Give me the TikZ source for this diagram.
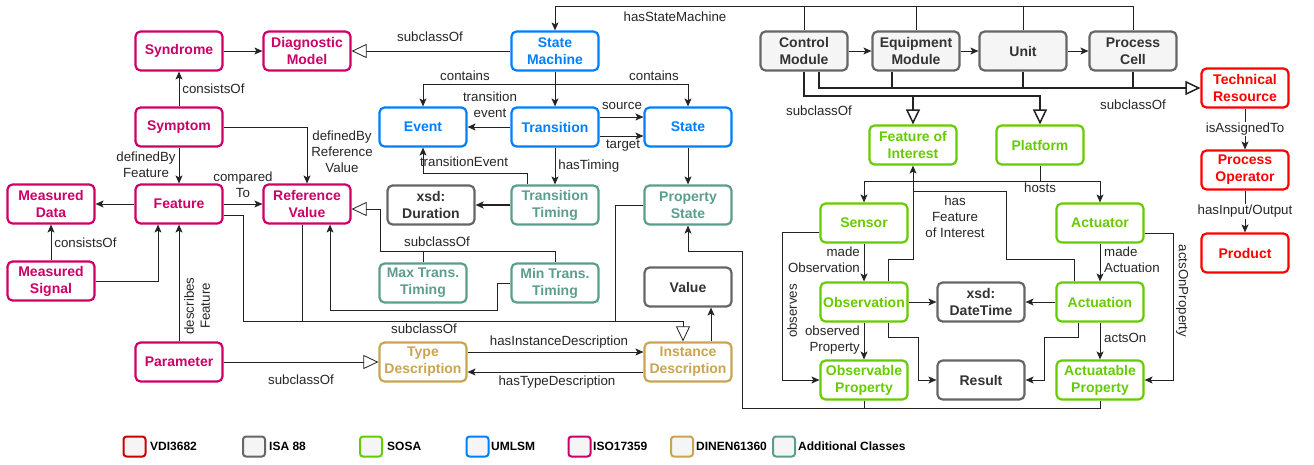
\documentclass[tikz,border=0pt]{standalone}
\usepackage{fontspec}
\setmainfont{Liberation Sans}
\usetikzlibrary{arrows.meta,calc}
\definecolor{sosag}{HTML}{66CC00}
\definecolor{umlb}{HTML}{007FFF}
\definecolor{isom}{HTML}{CC0066}
\definecolor{ding}{HTML}{C9A552}
\definecolor{addt}{HTML}{5C9E8E}
\definecolor{isag}{HTML}{666666}
\definecolor{isat}{HTML}{333333}
\definecolor{vdir}{HTML}{FF0000}
\definecolor{vdil}{HTML}{CC0000}
\definecolor{lgfill}{HTML}{F5F5F5}
\definecolor{linec}{HTML}{222222}
\tikzset{
 box/.style={rounded corners=5pt, line width=2.2pt, minimum width=87pt, minimum height=39pt, inner sep=1pt, align=center, font=\fontsize{14}{17}\selectfont\bfseries, fill=white},
 vdi/.style={box, draw=vdir, text=vdir},
 isa/.style={box, draw=isag, text=isat, fill=lgfill},
 isaw/.style={box, draw=isag, text=isat},
 sosa/.style={box, draw=sosag, text=sosag},
 uml/.style={box, draw=umlb, text=umlb},
 iso/.style={box, draw=isom, text=isom},
 din/.style={box, draw=ding, text=ding},
 addc/.style={box, draw=addt, text=addt},
 conn/.style={draw=linec, line width=0.8pt},
 arr/.style={conn, -{Stealth[length=8pt,width=7pt,inset=2pt]}},
 sub/.style={conn, -{Triangle[open,length=15pt,width=14pt,fill=white]}},
 lbl/.style={font=\fontsize{13.3}{16}\selectfont, text=black!85, inner sep=1pt, align=center},
 legbox/.style={rounded corners=3pt, line width=2pt, minimum width=22pt, minimum height=20pt, inner sep=0pt, fill=lgfill},
 legtxt/.style={font=\fontsize{12}{14}\selectfont\bfseries, anchor=west, inner sep=0pt},
}
\begin{document}
\begin{tikzpicture}[x=1pt,y=-1pt]
\fill[white] (0,0) rectangle (1314,464);
\useasboundingbox (0,0) rectangle (1314,464);

% nodes
\node[iso] (syn) at (179,51) {Syndrome};
\node[iso] (dm) at (307,51) {Diagnostic\\Model};
\node[uml] (sm) at (555,51) {State\\Machine};
\node[isa] (cm) at (804,51) {Control\\Module};
\node[isa] (em) at (916,51) {Equipment\\Module};
\node[isa] (un) at (1023,51) {Unit};
\node[isa] (pc) at (1133,51) {Process\\Cell};
\node[vdi] (tres) at (1245,88) {Technical\\Resource};
\node[vdi] (po) at (1245,170) {Process\\Operator};
\node[vdi] (prod) at (1245,253) {Product};
\node[iso] (sym) at (179,127) {Symptom};
\node[uml] (ev) at (423,127) {Event};
\node[uml] (tr) at (555,127) {Transition};
\node[uml] (st) at (688,127) {State};
\node[sosa] (fi) at (913,145) {Feature of\\Interest};
\node[sosa] (pl) at (1040,145) {Platform};
\node[iso] (md) at (51,204) {Measured\\Data};
\node[iso] (fe) at (179,204) {Feature};
\node[iso] (rv) at (307,204) {Reference\\Value};
\node[isaw] (dur) at (431,205) {xsd:\\Duration};
\node[addc] (tt) at (555,205) {Transition\\Timing};
\node[addc] (ps) at (688,205) {Property\\State};
\node[sosa] (se) at (864,223) {Sensor};
\node[sosa] (act) at (1100,223) {Actuator};
\node[iso] (ms) at (51,281) {Measured\\Signal};
\node[addc] (max) at (423,283) {Max Trans.\\Timing};
\node[addc] (min) at (555,283) {Min Trans.\\Timing};
\node[isaw] (val) at (688,287) {Value};
\node[sosa] (ob) at (864,302) {Observation};
\node[isaw] (dt) at (981,302) {xsd:\\DateTime};
\node[sosa] (an) at (1100,302) {Actuation};
\node[iso] (par) at (179,362) {Parameter};
\node[din] (td) at (423,362) {Type\\Description};
\node[din] (id) at (688,362) {Instance\\Description};
\node[sosa] (op) at (864,380) {Observable\\Property};
\node[isaw] (res) at (981,380) {Result};
\node[sosa] (ap) at (1100,380) {Actuatable\\Property};

% ISO17359 part
\draw[arr] (syn.east) -- (dm.west);
\draw[arr] (sym.north) -- (syn.south) node[lbl, midway, right=2pt] {consistsOf};
\draw[sub] (sm.west) -- (dm.east);
\node[lbl] (l-sub1) at (430,37) {subclassOf};
\draw[arr] (sym.east) -| (rv.north);
\node[lbl] (l-dbr) at (342,152) {definedBy\\Reference\\Value};
\draw[arr] (sym.south) -- (fe.north);
\node[lbl] (l-dbf) at (146,165) {definedBy\\Feature};
\draw[arr] (fe.west) -- (md.east);
\draw[arr] (fe.east) -- (rv.west);
\node[lbl] (l-cmp) at (243,185) {compared\\To};
\draw[arr] (ms.north) -- (md.south) node[lbl, midway, right=2pt] {consistsOf};
\draw[arr] (ms.east) -| ([xshift=-21pt]fe.south);
\draw[arr] (par.north) -- (fe.south);
\node[lbl, rotate=90] (l-desc) at (197,306) {describes\\Feature};
\draw[sub] (par.east) -- (td.west);
\node[lbl] (l-sub2) at (301,380) {subclassOf};

% state machine
\draw[arr] (pc.north) |- (sm.north |- 0,6) -- (sm.north);
\draw[conn] (cm.north) -- (cm.north |- 0,6);
\draw[conn] (em.north) -- (em.north |- 0,6);
\draw[conn] (un.north) -- (un.north |- 0,6);
\node[lbl] (l-hsm) at (675,17) {hasStateMachine};
\draw[arr] (sm.south) -- (tr.north);
\draw[arr] (sm.south |- 0,84) -| (ev.north);
\draw[arr] (sm.south |- 0,84) -| (st.north);
\node[lbl] (l-c1) at (465,76) {contains};
\node[lbl] (l-c2) at (654,76) {contains};
\draw[arr] (tr.west) -- (ev.east);
\node[lbl] (l-te) at (490,105) {transition\\event};
\draw[arr] ([yshift=10pt]tr.east) -- ([yshift=10pt]st.west);
\draw[arr] ([yshift=-9pt]tr.east) -- ([yshift=-9pt]st.west);
\node[lbl] (l-src) at (622,106) {source};
\node[lbl] (l-tgt) at (623,146) {target};
\draw[arr] ([xshift=-28pt]tt.north) |- (423,173) -- (ev.south);
\node[lbl] (l-tev) at (464,162) {transitionEvent};
\draw[arr] (tr.south) -- (tt.north) node[lbl, midway, right=2pt] {hasTiming};
\draw[arr] (st.south) -- (ps.north);
\draw[arr, line width=1.8pt] (tt.west) -- (dur.east);
\draw[sub] (min.north) |- (380,251) |- ([yshift=-5pt]rv.east);
\draw[conn] (max.north) -- (max.north |- 0,251);
\node[lbl] (l-sub3) at (437,242) {subclassOf};
\draw[arr] (min.west) -| (497,310) -| ([xshift=23pt]rv.south);

% subclassOf Instance Description
\draw[sub] ([yshift=-11pt]fe.east) -| (243,321) -| ([xshift=-5pt]id.north);
\draw[conn] ([xshift=-5pt]rv.south) -- ([xshift=-5pt]rv.south |- 0,321);
\draw[conn] (ps.west) -| (615,321);
\node[lbl] (l-sub4) at (424,329) {subclassOf};
\draw[arr] ([yshift=10pt]td.east) -- ([yshift=10pt]id.west);
\node[lbl] (l-hid) at (559,342) {hasInstanceDescription};
\draw[arr] ([yshift=-10pt]id.west) -- ([yshift=-10pt]td.east);
\node[lbl] (l-htd) at (557,382) {hasTypeDescription};
\draw[arr] ([xshift=23pt]id.north) -- ([xshift=23pt]val.south);

% ISA 88
\draw[arr] (cm.east) -- (em.west);
\draw[arr] (em.east) -- (un.west);
\draw[arr] (un.east) -- (pc.west);
\draw[sub, line width=1.5pt] ([xshift=15pt]cm.south) |- (tres.west);
\draw[conn, line width=1.5pt] ([xshift=-24pt]em.south) -- ([xshift=-24pt]em.south |- tres.west);
\draw[conn, line width=1.5pt] (un.south) -- (un.south |- tres.west);
\draw[conn, line width=1.5pt] (pc.south) -- (pc.south |- tres.west);
\node[lbl] (l-sub5) at (1133,105) {subclassOf};
\draw[sub, line width=1.5pt] (cm.south) |- (913,96) -- (fi.north);
\draw[sub, line width=1.5pt] (913,96) -| (pl.north);
\node[lbl] (l-sub6) at (819,111) {subclassOf};

% VDI
\draw[arr] (tres.south) -- (po.north) node[lbl, midway, fill=white] {isAssignedTo};
\draw[arr] (po.south) -- (prod.north) node[lbl, midway, fill=white] {hasInput/Output};

% SOSA
\draw[arr] (pl.south) |- (se.north |- 0,181) -- (se.north);
\draw[arr] (pl.south |- 0,181) -| (act.north);
\node[lbl] (l-hosts) at (1040,188) {hosts};
\draw[arr] ([xshift=24pt]ob.north) |- (913,259) -- (fi.south);
\draw[conn] ([xshift=-26pt]an.north) |- (1006,259) |- (913,191);
\node[lbl] (l-hfi) at (955,217) {has\\Feature\\of Interest};
\draw[arr] (se.south) -- (ob.north);
\node[lbl, anchor=east, align=right] (l-mo) at (861,260) {made\\Observation};
\draw[arr] ([yshift=-9pt]se.west) -| (782,380) -- (op.west);
\node[lbl, rotate=90] (l-obs) at (792,311) {observes};
\draw[arr] (ob.south) -- (op.north);
\node[lbl, anchor=east, align=right] (l-op) at (861,340) {observed\\Property};
\draw[arr] (ob.east) -- (dt.west);
\draw[arr] (an.west) -- (dt.east);
\draw[arr] ([xshift=24pt]ob.south) |- (918,337) |- (res.west);
\draw[arr] ([xshift=-22pt]an.south) |- (1044,337) |- (res.east);
\draw[arr] (an.south) -- (ap.north);
\node[lbl, anchor=west] (l-ao) at (1103,338) {actsOn};
\draw[arr] (act.south) -- (an.north);
\node[lbl, anchor=west, align=left] (l-ma) at (1103,260) {made\\Actuation};
\draw[arr] ([yshift=-10pt]act.east) -| (1173,380) -- (ap.east);
\node[lbl, rotate=-90] (l-aop) at (1182,291) {actsOnProperty};
\draw[arr] (op.south) |- (742,408) |- (688,251) -- (ps.south);
\draw[conn] (ap.south) |- (op.south |- 0,408);

% legend
\node[legbox, draw=vdil] (g1) at (134.5,446.5) {};
\node[legtxt] (t1) at (150,446.5) {VDI3682};
\node[legbox, draw=isag] (g2) at (254,446.5) {};
\node[legtxt] (t2) at (269,446.5) {ISA 88};
\node[legbox, draw=sosag] (g3) at (371,446.5) {};
\node[legtxt] (t3) at (387,446.5) {SOSA};
\node[legbox, draw=umlb] (g4) at (477.5,446.5) {};
\node[legtxt] (t4) at (491,446.5) {UMLSM};
\node[legbox, draw=isom] (g5) at (579.5,446.5) {};
\node[legtxt] (t5) at (593,446.5) {ISO17359};
\node[legbox, draw=ding] (g6) at (682,446.5) {};
\node[legtxt] (t6) at (696,446.5) {DINEN61360};
\node[legbox, draw=addt] (g7) at (784,446.5) {};
\node[legtxt] (t7) at (798,446.5) {Additional Classes};
\end{tikzpicture}
\end{document}
